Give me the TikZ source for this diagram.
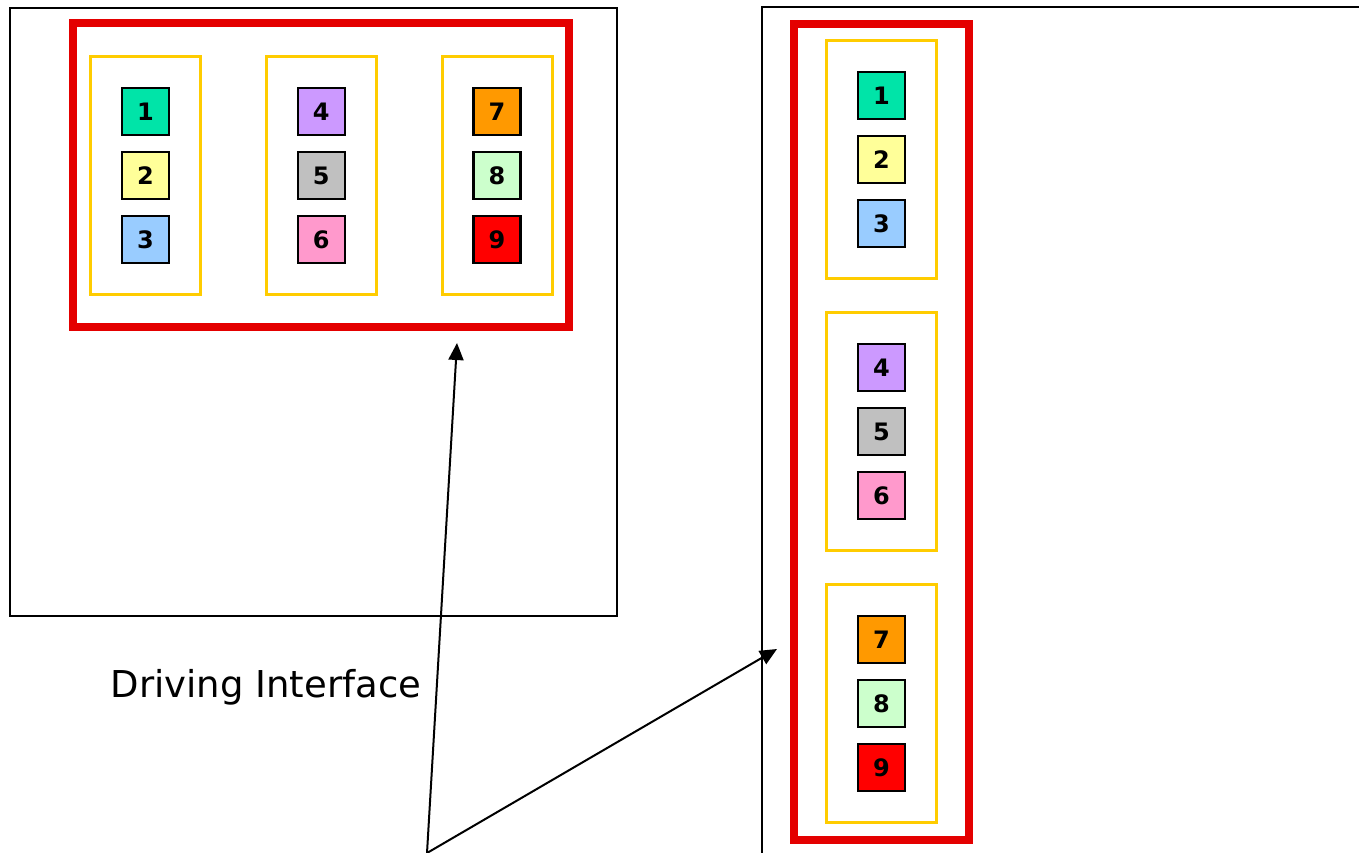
\documentclass[tikz,border=0pt]{standalone}
\usepackage{fontspec}
\setmainfont{DejaVu Sans}
\usetikzlibrary{arrows.meta}

\definecolor{c1}{RGB}{0,228,168}
\definecolor{c2}{RGB}{255,255,153}
\definecolor{c3}{RGB}{153,204,255}
\definecolor{c4}{RGB}{204,153,255}
\definecolor{c5}{RGB}{192,192,192}
\definecolor{c6}{RGB}{255,153,204}
\definecolor{c7}{RGB}{255,153,0}
\definecolor{c8}{RGB}{204,255,204}
\definecolor{c9}{RGB}{255,0,0}
\definecolor{redline}{RGB}{228,0,0}
\definecolor{yellowline}{RGB}{255,204,0}

\begin{document}
\begin{tikzpicture}[x=1pt,y=-1pt,
  numbox/.style={draw=black,line width=2.2pt,minimum size=47pt,inner sep=0pt,
    font=\fontsize{24}{24}\selectfont\bfseries},
  grpbox/.style={draw=yellowline,line width=3pt,minimum width=110pt,
    minimum height=238pt,inner sep=0pt},
  redbox/.style={draw=redline,line width=8pt,inner sep=0pt},
  panel/.style={draw=black,line width=1.8pt},
  link/.style={line width=2pt,-{Triangle[length=17pt,width=15pt]}}]
\useasboundingbox (0,0) rectangle (1359,853);

% left panel, groups side by side
\draw[panel] (10,8) rectangle (617,616);
\node[redbox,minimum width=496pt,minimum height=303pt] (lred) at (321,175) {};
\foreach \col in {0,1,2} {
  \node[grpbox] (lg\col) at ({145.5+175.75*\col},175.5) {};
  \foreach \row in {0,1,2} {
    \pgfmathtruncatemacro\k{3*\col+\row+1}
    \node[numbox,fill=c\k] (l\k) at ({145.5+175.75*\col},{111.5+64*\row}) {\k};
  }
}

% right panel, groups stacked
\draw[panel] (762,853) |- (1359,7);
\node[redbox,minimum width=175.5pt,minimum height=815.5pt] (rred) at (881.25,431.75) {};
\foreach \col in {0,1,2} {
  \node[grpbox] (rg\col) at (881.5,{159.5+272*\col}) {};
  \foreach \row in {0,1,2} {
    \pgfmathtruncatemacro\k{3*\col+\row+1}
    \node[numbox,fill=c\k] (r\k) at (881.5,{95.5+272*\col+64*\row}) {\k};
  }
}

\node[font=\fontsize{37}{37}\selectfont] (label) at (266,687) {Driving Interface};

% arrows
\coordinate (src) at (427,853);
\coordinate (tipl) at (457,343);
\coordinate (tipr) at (777,649);
\draw[link] (src) -- (tipl);
\draw[link] (src) -- (tipr);

\end{tikzpicture}
\end{document}
